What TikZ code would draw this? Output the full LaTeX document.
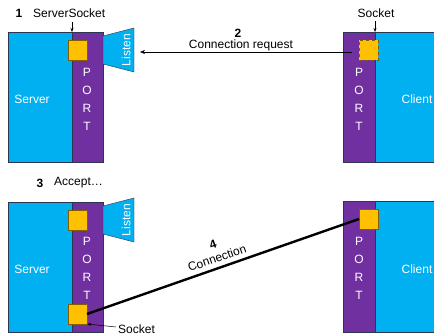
\documentclass[tikz,border=0pt]{standalone}
\usepackage{fontspec}
\setmainfont{Liberation Sans}
\usetikzlibrary{arrows.meta}
\definecolor{cblue}{HTML}{00B0F0}
\definecolor{cpurple}{HTML}{7030A0}
\definecolor{cyellow}{HTML}{FFC000}
\definecolor{cedge}{HTML}{2E3550}
\definecolor{yedge}{HTML}{7F5F00}
\begin{document}
\begin{tikzpicture}[x=1pt,y=-1pt,
  box/.style={draw=cedge, line width=0.6pt, inner sep=0, outer sep=0, anchor=north west},
  bluebox/.style={box, fill=cblue},
  portbox/.style={box, fill=cpurple},
  sock/.style={draw=yedge, line width=0.6pt, fill=cyellow, minimum width=19pt, minimum height=20pt, inner sep=0, outer sep=0, anchor=north west},
  lbl/.style={font=\fontsize{12}{14}\selectfont, inner sep=0},
  blbl/.style={font=\fontsize{12}{14}\selectfont\bfseries, inner sep=0},
  wlbl/.style={lbl, text=white},
  portlbl/.style={font=\fontsize{12}{18}\selectfont, inner sep=0, text=white, align=center},
  listen/.style={draw=cedge, line width=0.4pt, fill=cblue},
  ptr/.style={-{Stealth[length=4pt,width=3pt]}, line width=0.5pt}
]
\useasboundingbox (0,0) rectangle (434,336);
\clip (0,0) rectangle (434,336);

% ---------- top scene ----------
\node[bluebox, minimum width=64pt, minimum height=130pt] (srv1) at (8,32) {};
\node[portbox, minimum width=31pt, minimum height=130pt] (sport1) at (72,32) {};
\node[sock] (ssock1) at (68,40) {};
\draw[listen] (103,36) -- (134,28) -- (134,72) -- (103,64) -- cycle;
\node[wlbl, rotate=90] (listen1) at (126,50) {Listen};
\node[wlbl] (srvlbl1) at (32,99) {Server};
\node[portlbl] (sportlbl1) at (87,99) {P\\O\\R\\T};

\node[portbox, minimum width=32pt, minimum height=130pt] (cport1) at (343,32) {};
\node[bluebox, minimum width=70pt, minimum height=130pt] (cli1) at (375,32) {};
\node[sock, dashed] (csock1) at (359,40) {};
\node[wlbl] (clilbl1) at (417,99) {Client};
\node[portlbl] (cportlbl1) at (359,99) {P\\O\\R\\T};

\node[blbl] (n1) at (19,13) {1};
\node[lbl, anchor=west] (sslbl) at (33,13) {ServerSocket};
\coordinate (ssptr) at (72,22);
\draw[ptr] (ssptr) -- (srv1.north east);

\node[lbl] (socklbl1) at (376,13) {Socket};
\coordinate (sockptr1) at (375,21);
\draw[ptr] (sockptr1) -- (cport1.north east);

\coordinate (reqstart) at (352,52);
\coordinate (reqend) at (140,52);
\draw[-{Stealth[length=5pt,width=4pt]}, line width=0.6pt] (reqstart) -- (reqend);
\node[blbl] (n2) at (238,33) {2};
\node[lbl] (reqlbl) at (241,45) {Connection request};

% ---------- bottom scene ----------
\node[blbl] (n3) at (40,183) {3};
\node[lbl, anchor=west] (acclbl) at (54,183) {Accept\ldots};

\node[bluebox, minimum width=64pt, minimum height=130pt] (srv2) at (8,202) {};
\node[portbox, minimum width=31pt, minimum height=130pt] (sport2) at (72,202) {};
\node[sock] (ssock2) at (68,210) {};
\node[sock] (sockb) at (68,304) {};
\draw[listen] (103,206) -- (134,198) -- (134,242) -- (103,234) -- cycle;
\node[wlbl, rotate=90] (listen2) at (126,220) {Listen};
\node[wlbl] (srvlbl2) at (32,269) {Server};
\node[portlbl] (sportlbl2) at (87,268) {P\\O\\R\\T};

\node[portbox, minimum width=32pt, minimum height=131pt] (cport2) at (343,201) {};
\node[bluebox, minimum width=70pt, minimum height=131pt] (cli2) at (375,201) {};
\node[sock] (csock2) at (359,209) {};
\node[wlbl] (clilbl2) at (417,269) {Client};
\node[portlbl] (cportlbl2) at (359,268) {P\\O\\R\\T};

\draw[line width=2.4pt] (sockb.east) -- (csock2.west);
\node[blbl, rotate=19] (n4) at (213,245) {4};
\node[lbl, rotate=19] (connlbl) at (217,258) {Connection};

\coordinate (sockptr2) at (116,327);
\draw[ptr] (sockptr2) -- (sockb.south east);
\node[lbl, anchor=west] (socklbl2) at (118,329.5) {Socket};
\end{tikzpicture}
\end{document}
